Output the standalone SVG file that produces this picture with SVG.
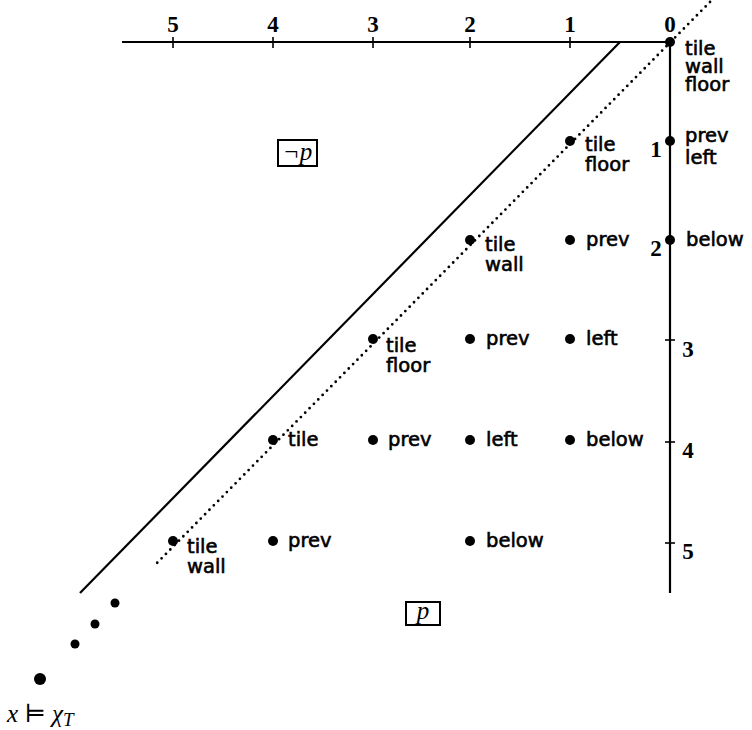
<svg xmlns="http://www.w3.org/2000/svg" width="752" height="730" viewBox="0 0 752 730">
<style>
.ax{stroke:#000;stroke-width:2.2;fill:none}
.tk{stroke:#000;stroke-width:1.6}
.num{font-family:"Liberation Serif","DejaVu Serif",serif;font-weight:bold;font-size:23px;fill:#000}
.lb{font-family:"DejaVu Sans","Liberation Sans",sans-serif;font-size:19.5px;fill:#000;stroke:#000;stroke-width:0.6}
.m{font-family:"Liberation Serif","DejaVu Serif",serif;font-style:italic;font-size:25px;fill:#000}
.dot{fill:#000}
</style>
<rect width="752" height="730" fill="#fff"/>
<g id="connectors">
<line class="ax" x1="122" y1="42" x2="670" y2="42"/>
<line class="ax" x1="670" y1="42" x2="670" y2="593"/>
<line class="ax" x1="620" y1="42" x2="80" y2="593" stroke-width="2.6"/>
<line x1="710" y1="2" x2="157" y2="563" stroke="#000" stroke-width="2.8" stroke-linecap="round" stroke-dasharray="0 6.2"/>
<g class="tk">
<line x1="173" y1="37" x2="173" y2="48"/>
<line x1="273" y1="37" x2="273" y2="48"/>
<line x1="373" y1="37" x2="373" y2="48"/>
<line x1="470" y1="37" x2="470" y2="48"/>
<line x1="570" y1="37" x2="570" y2="48"/>
<line x1="665" y1="340" x2="675" y2="340"/>
<line x1="665" y1="442" x2="675" y2="442"/>
<line x1="665" y1="543" x2="675" y2="543"/>
</g>
</g>
<g id="axis-labels">
<text class="num" x="173" y="32" text-anchor="middle">5</text>
<text class="num" x="273" y="32" text-anchor="middle">4</text>
<text class="num" x="373" y="32" text-anchor="middle">3</text>
<text class="num" x="470" y="32" text-anchor="middle">2</text>
<text class="num" x="570" y="32" text-anchor="middle">1</text>
<text class="num" x="670" y="32" text-anchor="middle">0</text>
<text class="num" x="656" y="157" text-anchor="middle">1</text>
<text class="num" x="656" y="256" text-anchor="middle">2</text>
<text class="num" x="688" y="357" text-anchor="middle">3</text>
<text class="num" x="688" y="458" text-anchor="middle">4</text>
<text class="num" x="688" y="559" text-anchor="middle">5</text>
</g>
<g id="n00"><circle class="dot" cx="670" cy="42" r="5"/><text class="lb"><tspan x="685" y="55">tile</tspan><tspan x="685" y="73">wall</tspan><tspan x="685" y="91">floor</tspan></text></g>
<g id="n01"><circle class="dot" cx="670" cy="141" r="5"/><text class="lb"><tspan x="685" y="142">prev</tspan><tspan x="685" y="164">left</tspan></text></g>
<g id="n11"><circle class="dot" cx="570" cy="141" r="5"/><text class="lb"><tspan x="585" y="151">tile</tspan><tspan x="585" y="171">floor</tspan></text></g>
<g id="n02"><circle class="dot" cx="670" cy="240" r="5"/><text class="lb" x="686" y="246">below</text></g>
<g id="n12"><circle class="dot" cx="570" cy="240" r="5"/><text class="lb" x="586" y="246">prev</text></g>
<g id="n22"><circle class="dot" cx="470" cy="240" r="5"/><text class="lb"><tspan x="485" y="251">tile</tspan><tspan x="485" y="271">wall</tspan></text></g>
<g id="n13"><circle class="dot" cx="570" cy="339" r="5"/><text class="lb" x="586" y="345">left</text></g>
<g id="n23"><circle class="dot" cx="470" cy="339" r="5"/><text class="lb" x="486" y="345">prev</text></g>
<g id="n33"><circle class="dot" cx="373" cy="339" r="5"/><text class="lb"><tspan x="386" y="352">tile</tspan><tspan x="386" y="372">floor</tspan></text></g>
<g id="n14"><circle class="dot" cx="570" cy="440" r="5"/><text class="lb" x="586" y="446">below</text></g>
<g id="n24"><circle class="dot" cx="470" cy="440" r="5"/><text class="lb" x="486" y="446">left</text></g>
<g id="n34"><circle class="dot" cx="373" cy="440" r="5"/><text class="lb" x="388" y="446">prev</text></g>
<g id="n44"><circle class="dot" cx="273" cy="440" r="5"/><text class="lb" x="288" y="446">tile</text></g>
<g id="n25"><circle class="dot" cx="470" cy="541" r="5"/><text class="lb" x="486" y="547">below</text></g>
<g id="n45"><circle class="dot" cx="273" cy="541" r="5"/><text class="lb" x="288" y="547">prev</text></g>
<g id="n55"><circle class="dot" cx="173" cy="541" r="5"/><text class="lb"><tspan x="187" y="553">tile</tspan><tspan x="187" y="573">wall</tspan></text></g>
<g id="notp"><rect x="278" y="140" width="39" height="26" fill="none" stroke="#000" stroke-width="2"/><text class="m" x="297.5" y="160" text-anchor="middle">¬p</text></g>
<g id="p"><rect x="406" y="602" width="34" height="23" fill="none" stroke="#000" stroke-width="2"/><text class="m" x="423" y="619" text-anchor="middle">p</text></g>
<g id="ellipsis">
<circle class="dot" cx="115" cy="603" r="4.5"/>
<circle class="dot" cx="95" cy="624" r="4.5"/>
<circle class="dot" cx="75" cy="644" r="4.5"/>
<circle class="dot" cx="40" cy="679" r="6"/>
</g>
<g id="x"><text class="m" x="7" y="722" font-size="28">x ⊨ χ<tspan font-size="19" dy="4">T</tspan></text></g>
</svg>
